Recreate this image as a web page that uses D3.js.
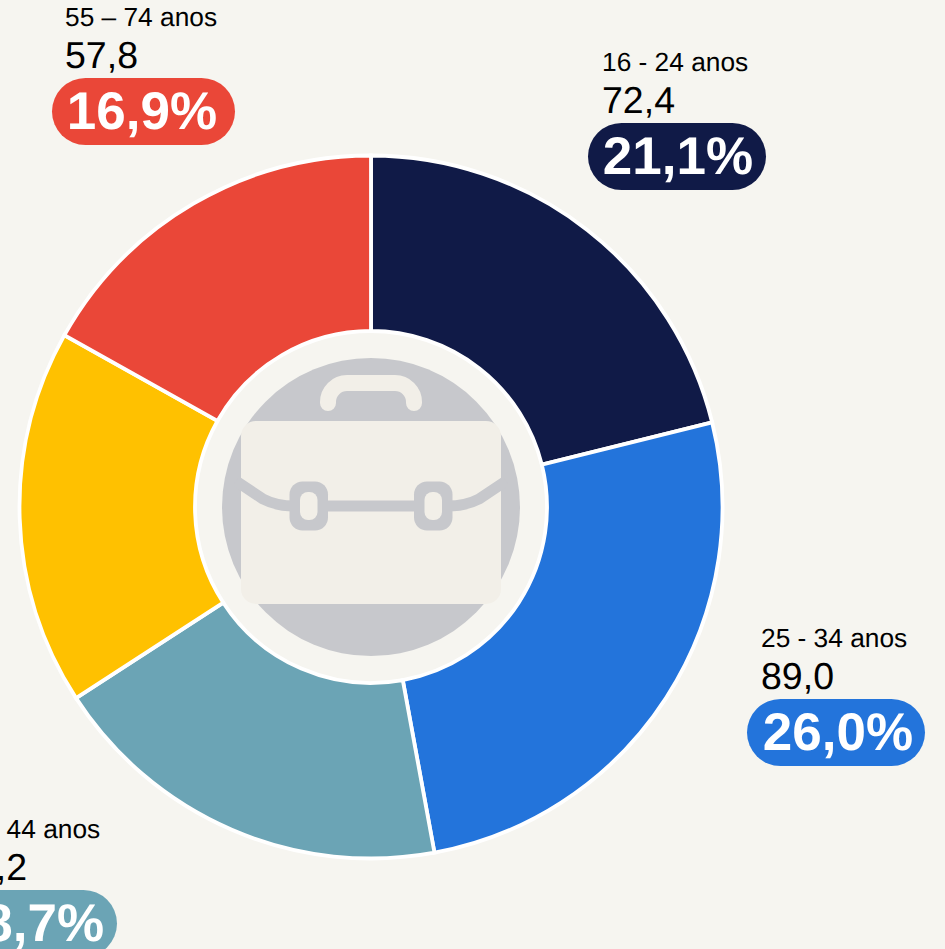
<!DOCTYPE html>
<html><head><meta charset="utf-8">
<script src="https://cdnjs.cloudflare.com/ajax/libs/d3/7.8.5/d3.min.js"></script>
<style>html,body{margin:0;padding:0;background:#f6f5f0;overflow:hidden}svg{display:block}text{font-family:"Liberation Sans",Arial,sans-serif;text-rendering:geometricPrecision}</style>
</head><body><svg id="c" width="945" height="949"></svg>
<script>
const categories=["16 - 24 anos","25 - 34 anos","35 - 44 anos","45 - 54 anos","55 – 74 anos"];
const values=[72.4,89.0,64.2,59.2,57.8];
const valueLabels=["72,4","89,0","64,2","59,2","57,8"];
const percentLabels=["21,1%","26,0%","18,7%","17,3%","16,9%"];
const colors=["#101a47","#2374db","#6ba4b5","#ffc100","#ea4738"];
// top-left of each label block (the 45 - 54 label falls outside the frame in the reference)
const labelAnchors=[[602,43],[761,619],[-46,810],null,[65,-2]];
const pillLeft=[-14,-14,-14,null,-13];
const pillWidth=[178,178,177,null,183];
const percentCentre=[76,77,75,null,77];

const svg=d3.select("#c");
const cx=371,cy=507,R=351.5,r=176;
const pie=d3.pie().value(d=>d).sort(null)(values);
const arc=d3.arc().innerRadius(r).outerRadius(R);
const g=svg.append("g").attr("transform",`translate(${cx},${cy})`);
g.selectAll("path").data(pie).join("path").attr("d",arc)
 .attr("fill",(d,i)=>colors[i]).attr("stroke","#fff").attr("stroke-width",3.8);
// centre icon
const icon=svg.append("g");
const body="#f2efe8",grey="#c7c8cc";
icon.append("circle").attr("cx",cx).attr("cy",cy).attr("r",149).attr("fill",grey);
icon.append("path").attr("d","M328 403V402a19 19 0 0 1 19 -19H395a19 19 0 0 1 19 19V403")
 .attr("fill","none").attr("stroke",body).attr("stroke-width",16).attr("stroke-linecap","round");
icon.append("rect").attr("x",241).attr("y",421).attr("width",260).attr("height",183).attr("rx",15).attr("fill",body);
icon.append("path").attr("d","M236 481L263 499Q276 506 295 506H447Q466 506 479 499L506 481")
 .attr("fill","none").attr("stroke",grey).attr("stroke-width",11);
[289.5,414].forEach(x=>{
 icon.append("rect").attr("x",x).attr("y",481.5).attr("width",38.5).attr("height",49).attr("rx",13).attr("fill",grey);
 icon.append("rect").attr("x",x+10.5).attr("y",492).attr("width",17.5).attr("height",28).attr("rx",8).attr("fill",body);
});
// labels
categories.forEach((c,i)=>{
 const a=labelAnchors[i]; if(!a) return;
 const l=svg.append("g").attr("transform",`translate(${a[0]},${a[1]})`);
 l.append("text").attr("x",0).attr("y",28).attr("font-size",26.3).attr("fill","#000").text(c);
 l.append("text").attr("x",0).attr("y",70).attr("font-size",37.5).attr("fill","#000").text(valueLabels[i]);
 l.append("rect").attr("x",pillLeft[i]).attr("y",80).attr("width",pillWidth[i]).attr("height",67).attr("rx",33.5).attr("fill",colors[i]);
 l.append("text").attr("x",percentCentre[i]).attr("y",131).attr("text-anchor","middle").attr("font-size",53).attr("font-weight",700).attr("fill","#fff").text(percentLabels[i]);
});
</script></body></html>
